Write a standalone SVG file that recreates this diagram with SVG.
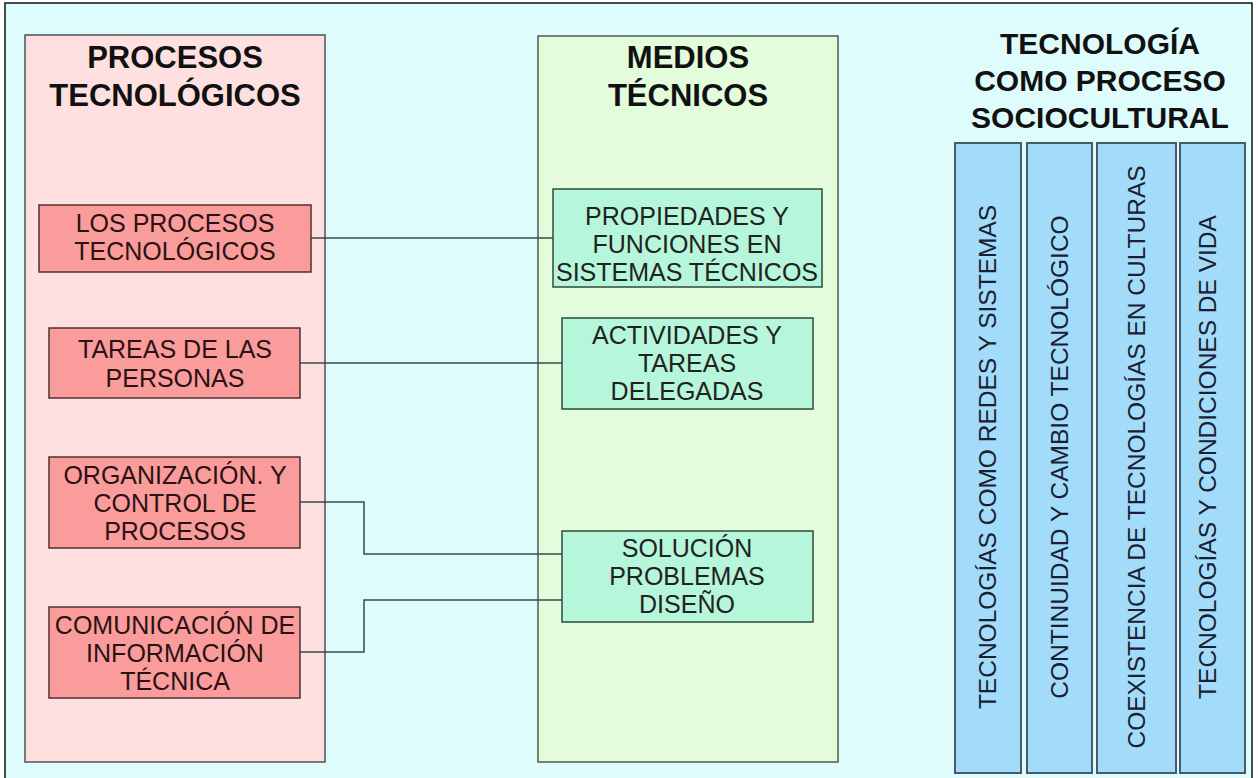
<svg xmlns="http://www.w3.org/2000/svg" width="1258" height="778" viewBox="0 0 1258 778">
<style>
  text { font-family: "Liberation Sans", Arial, sans-serif; }
  .title { font-size: 31px; font-weight: bold; fill: #111; text-anchor: middle; }
  .title2 { font-size: 30px; font-weight: bold; fill: #111; text-anchor: middle; }
  .lbl { font-size: 25px; fill: #222; text-anchor: middle; }
  .plbl { font-size: 25px; fill: #2a1212; text-anchor: middle; }
  .vlbl { font-size: 24.5px; fill: #1a2030; text-anchor: middle; }
  .panelP { fill: #fee0e0; stroke: #505050; stroke-width: 1.5; }
  .panelG { fill: #e2fcdc; stroke: #505a50; stroke-width: 1.5; }
  .nodeP { fill: #fb9c9c; stroke: #503030; stroke-width: 1.5; }
  .nodeG { fill: #b6f6da; stroke: #304a3a; stroke-width: 1.5; }
  .col { fill: #a2dcfa; stroke: #4a5a6a; stroke-width: 2; }
  .conn { fill: none; stroke: #3a4a4a; stroke-width: 1.5; }
</style>
<rect x="0" y="0" width="1258" height="778" fill="#ffffff"/>
<rect x="5" y="3" width="1247" height="780" fill="#defcfc" stroke="#111" stroke-width="1.5"/>

<g id="panel-procesos">
  <rect class="panelP" x="25" y="35" width="300" height="727"/>
  <text class="title" x="175" y="68">PROCESOS</text>
  <text class="title" x="175" y="106">TECNOLÓGICOS</text>
</g>

<g id="panel-medios">
  <rect class="panelG" x="538" y="36" width="300" height="726"/>
  <text class="title" x="688" y="68">MEDIOS</text>
  <text class="title" x="688" y="106">TÉCNICOS</text>
</g>

<g id="title-sociocultural">
  <text class="title2" x="1100" y="54">TECNOLOGÍA</text>
  <text class="title2" x="1100" y="91">COMO PROCESO</text>
  <text class="title2" x="1100" y="128">SOCIOCULTURAL</text>
</g>

<g id="connectors">
  <path class="conn" d="M311,238 H553"/>
  <path class="conn" d="M300,363 H562"/>
  <path class="conn" d="M300,502 H364 V554 H562"/>
  <path class="conn" d="M300,652 H364 V600 H562"/>
</g>

<g id="p1">
  <rect class="nodeP" x="39" y="205" width="272" height="67"/>
  <text class="plbl" x="175" y="232">LOS PROCESOS</text>
  <text class="plbl" x="175" y="260">TECNOLÓGICOS</text>
</g>
<g id="p2">
  <rect class="nodeP" x="49" y="328" width="251" height="70"/>
  <text class="plbl" x="175" y="358">TAREAS DE LAS</text>
  <text class="plbl" x="175" y="387">PERSONAS</text>
</g>
<g id="p3">
  <rect class="nodeP" x="49" y="457" width="251" height="91"/>
  <text class="plbl" x="175" y="484">ORGANIZACIÓN. Y</text>
  <text class="plbl" x="175" y="512">CONTROL DE</text>
  <text class="plbl" x="175" y="540">PROCESOS</text>
</g>
<g id="p4">
  <rect class="nodeP" x="49" y="607" width="251" height="91"/>
  <text class="plbl" x="175" y="634">COMUNICACIÓN DE</text>
  <text class="plbl" x="175" y="662">INFORMACIÓN</text>
  <text class="plbl" x="175" y="690">TÉCNICA</text>
</g>

<g id="g1">
  <rect class="nodeG" x="553" y="189" width="269" height="98"/>
  <text class="lbl" x="687" y="225">PROPIEDADES Y</text>
  <text class="lbl" x="687" y="253">FUNCIONES EN</text>
  <text class="lbl" x="687" y="281">SISTEMAS TÉCNICOS</text>
</g>
<g id="g2">
  <rect class="nodeG" x="562" y="318" width="251" height="91"/>
  <text class="lbl" x="687" y="344">ACTIVIDADES Y</text>
  <text class="lbl" x="687" y="372">TAREAS</text>
  <text class="lbl" x="687" y="400">DELEGADAS</text>
</g>
<g id="g3">
  <rect class="nodeG" x="562" y="531" width="251" height="91"/>
  <text class="lbl" x="687" y="557">SOLUCIÓN</text>
  <text class="lbl" x="687" y="585">PROBLEMAS</text>
  <text class="lbl" x="687" y="613">DISEÑO</text>
</g>

<g id="c1">
  <rect class="col" x="955" y="143" width="66" height="630"/>
  <text class="vlbl" transform="translate(996,457) rotate(-90)">TECNOLOGÍAS COMO REDES Y SISTEMAS</text>
</g>
<g id="c2">
  <rect class="col" x="1027" y="143" width="65" height="630"/>
  <text class="vlbl" transform="translate(1068,457) rotate(-90)">CONTINUIDAD Y CAMBIO TECNOLÓGICO</text>
</g>
<g id="c3">
  <rect class="col" x="1097" y="143" width="79" height="630"/>
  <text class="vlbl" transform="translate(1145,457) rotate(-90)">COEXISTENCIA DE TECNOLOGÍAS EN CULTURAS</text>
</g>
<g id="c4">
  <rect class="col" x="1180" y="143" width="65" height="630"/>
  <text class="vlbl" transform="translate(1216,457) rotate(-90)">TECNOLOGÍAS Y CONDICIONES DE VIDA</text>
</g>
</svg>
